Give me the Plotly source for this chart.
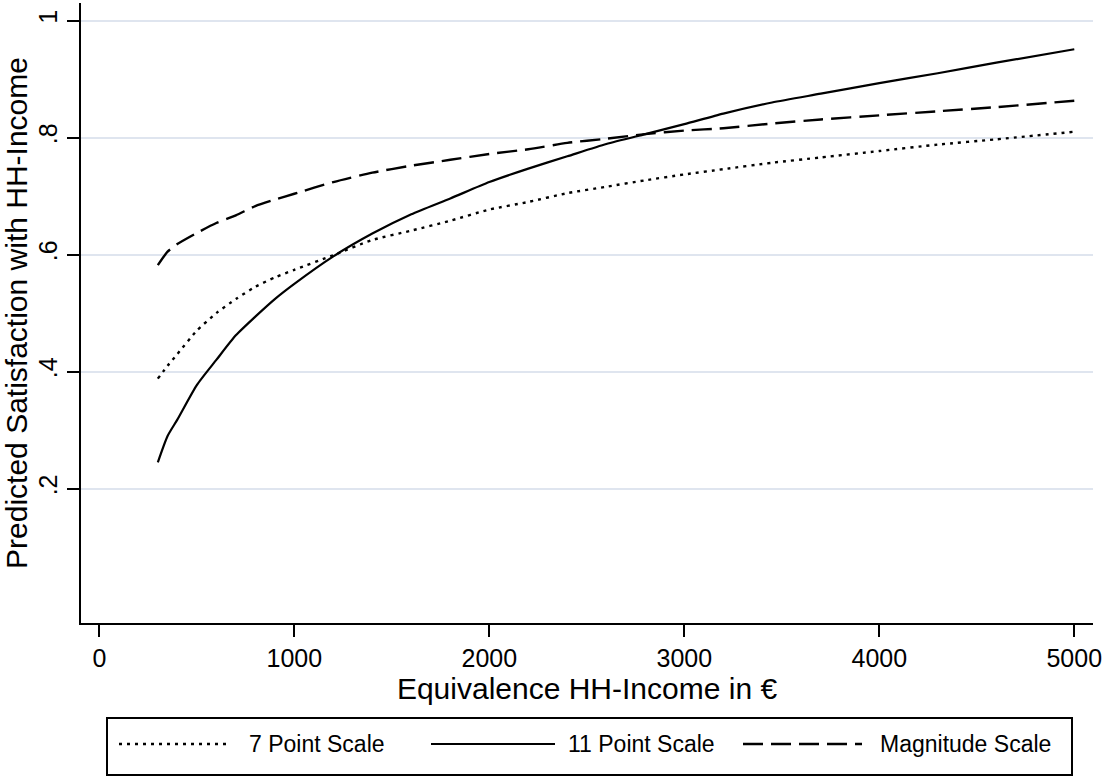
import plotly.graph_objects as go

# ---- data ----
income = [300, 350, 400, 500, 600, 700, 800, 900, 1000, 1200, 1400, 1600, 1800,
          2000, 2200, 2400, 2600, 2800, 3000, 3200, 3450, 3700, 4000, 4300, 4600, 5000]

scale7 = [0.388, 0.410, 0.430, 0.470, 0.500, 0.524, 0.545, 0.561, 0.574, 0.599, 0.625,
          0.641, 0.658, 0.677, 0.690, 0.705, 0.716, 0.727, 0.737, 0.746, 0.757, 0.766,
          0.777, 0.788, 0.797, 0.810]

scale11 = [0.245, 0.290, 0.318, 0.377, 0.420, 0.462, 0.494, 0.524, 0.550, 0.597, 0.636,
           0.669, 0.696, 0.724, 0.747, 0.768, 0.789, 0.806, 0.823, 0.841, 0.860, 0.875,
           0.893, 0.910, 0.928, 0.951]

magnitude = [0.582, 0.605, 0.618, 0.637, 0.654, 0.667, 0.683, 0.694, 0.704, 0.724, 0.740,
             0.752, 0.762, 0.772, 0.780, 0.791, 0.798, 0.806, 0.812, 0.816, 0.824, 0.831,
             0.838, 0.845, 0.852, 0.863]

series_names = ["7 Point Scale", "11 Point Scale", "Magnitude Scale"]

x_tickvals = [0, 1000, 2000, 3000, 4000, 5000]
x_ticktext = ["0", "1000", "2000", "3000", "4000", "5000"]
y_tickvals = [0.2, 0.4, 0.6, 0.8, 1.0]
y_ticktext = [".2", ".4", ".6", ".8", "1"]

x_title = "Equivalence HH-Income in €"
y_title = "Predicted Satisfaction with HH-Income"

# ---- styling ----
FONT = "Liberation Sans, Arial, sans-serif"
W, H = 1106, 777
ML, MR, MT, MB = 81, 13, 3, 154
PW, PH = W - ML - MR, H - MT - MB

dashes = ["3px,5px", "solid", "20px,8px"]
widths = [2.4, 2.2, 2.4]
series = [scale7, scale11, magnitude]

fig = go.Figure()
for name, vals, d, w in zip(series_names, series, dashes, widths):
    fig.add_trace(go.Scatter(x=income, y=vals, mode="lines", name=name,
                             line=dict(color="black", width=w, dash=d, shape="spline",
                                       smoothing=0.6),
                             showlegend=False))


def px_x(p):
    return (p - ML) / PW


def px_y(p):
    return (H - MB - p) / PH


# ---- manual Stata-style legend ----
shapes = [dict(type="rect", xref="paper", yref="paper",
               x0=px_x(107), x1=px_x(1072), y0=px_y(775), y1=px_y(718),
               line=dict(color="black", width=2), fillcolor="white")]
annotations = []
legend_items = [(119, 227, 247), (431, 555, 566), (743, 862, 878)]
ly = px_y(744)
for (a, b, t), name, d, w in zip(legend_items, series_names, dashes, widths):
    shapes.append(dict(type="line", xref="paper", yref="paper",
                       x0=px_x(a), x1=px_x(b), y0=ly, y1=ly,
                       line=dict(color="black", width=w, dash=d)))
    annotations.append(dict(xref="paper", yref="paper", x=px_x(t), y=ly,
                            text=name, showarrow=False, xanchor="left", yanchor="middle",
                            font=dict(family=FONT, size=23, color="black")))

fig.update_layout(
    width=W, height=H,
    margin=dict(l=ML, r=MR, t=MT, b=MB, autoexpand=False),
    paper_bgcolor="white", plot_bgcolor="white",
    font=dict(family=FONT, color="black"),
    shapes=shapes, annotations=annotations,
    showlegend=False,
)
fig.update_xaxes(range=[-94, 5096], tickvals=x_tickvals, ticktext=x_ticktext,
                 showgrid=False, zeroline=False, showline=True, linecolor="black",
                 linewidth=2, ticks="outside", ticklen=12, tickwidth=2, tickcolor="black",
                 tickfont=dict(family=FONT, size=25, color="black"),
                 title=dict(text=x_title, font=dict(family=FONT, size=30, color="black"),
                            standoff=0),
                 automargin=False)
fig.update_yaxes(range=[-0.0296, 1.030], tickvals=y_tickvals, ticktext=y_ticktext,
                 tickangle=-90, showgrid=True, gridcolor="#dfe5ef", gridwidth=2,
                 zeroline=False, showline=True, linecolor="black", linewidth=2,
                 ticks="outside", ticklen=12, tickwidth=2, tickcolor="black",
                 tickfont=dict(family=FONT, size=25, color="black"),
                 title=dict(text=y_title, font=dict(family=FONT, size=30, color="black"),
                            standoff=8),
                 automargin=False)

fig.write_html("out.html", config={"displayModeBar": False},
               post_script="document.body.style.margin='0';document.body.style.padding='0';")
